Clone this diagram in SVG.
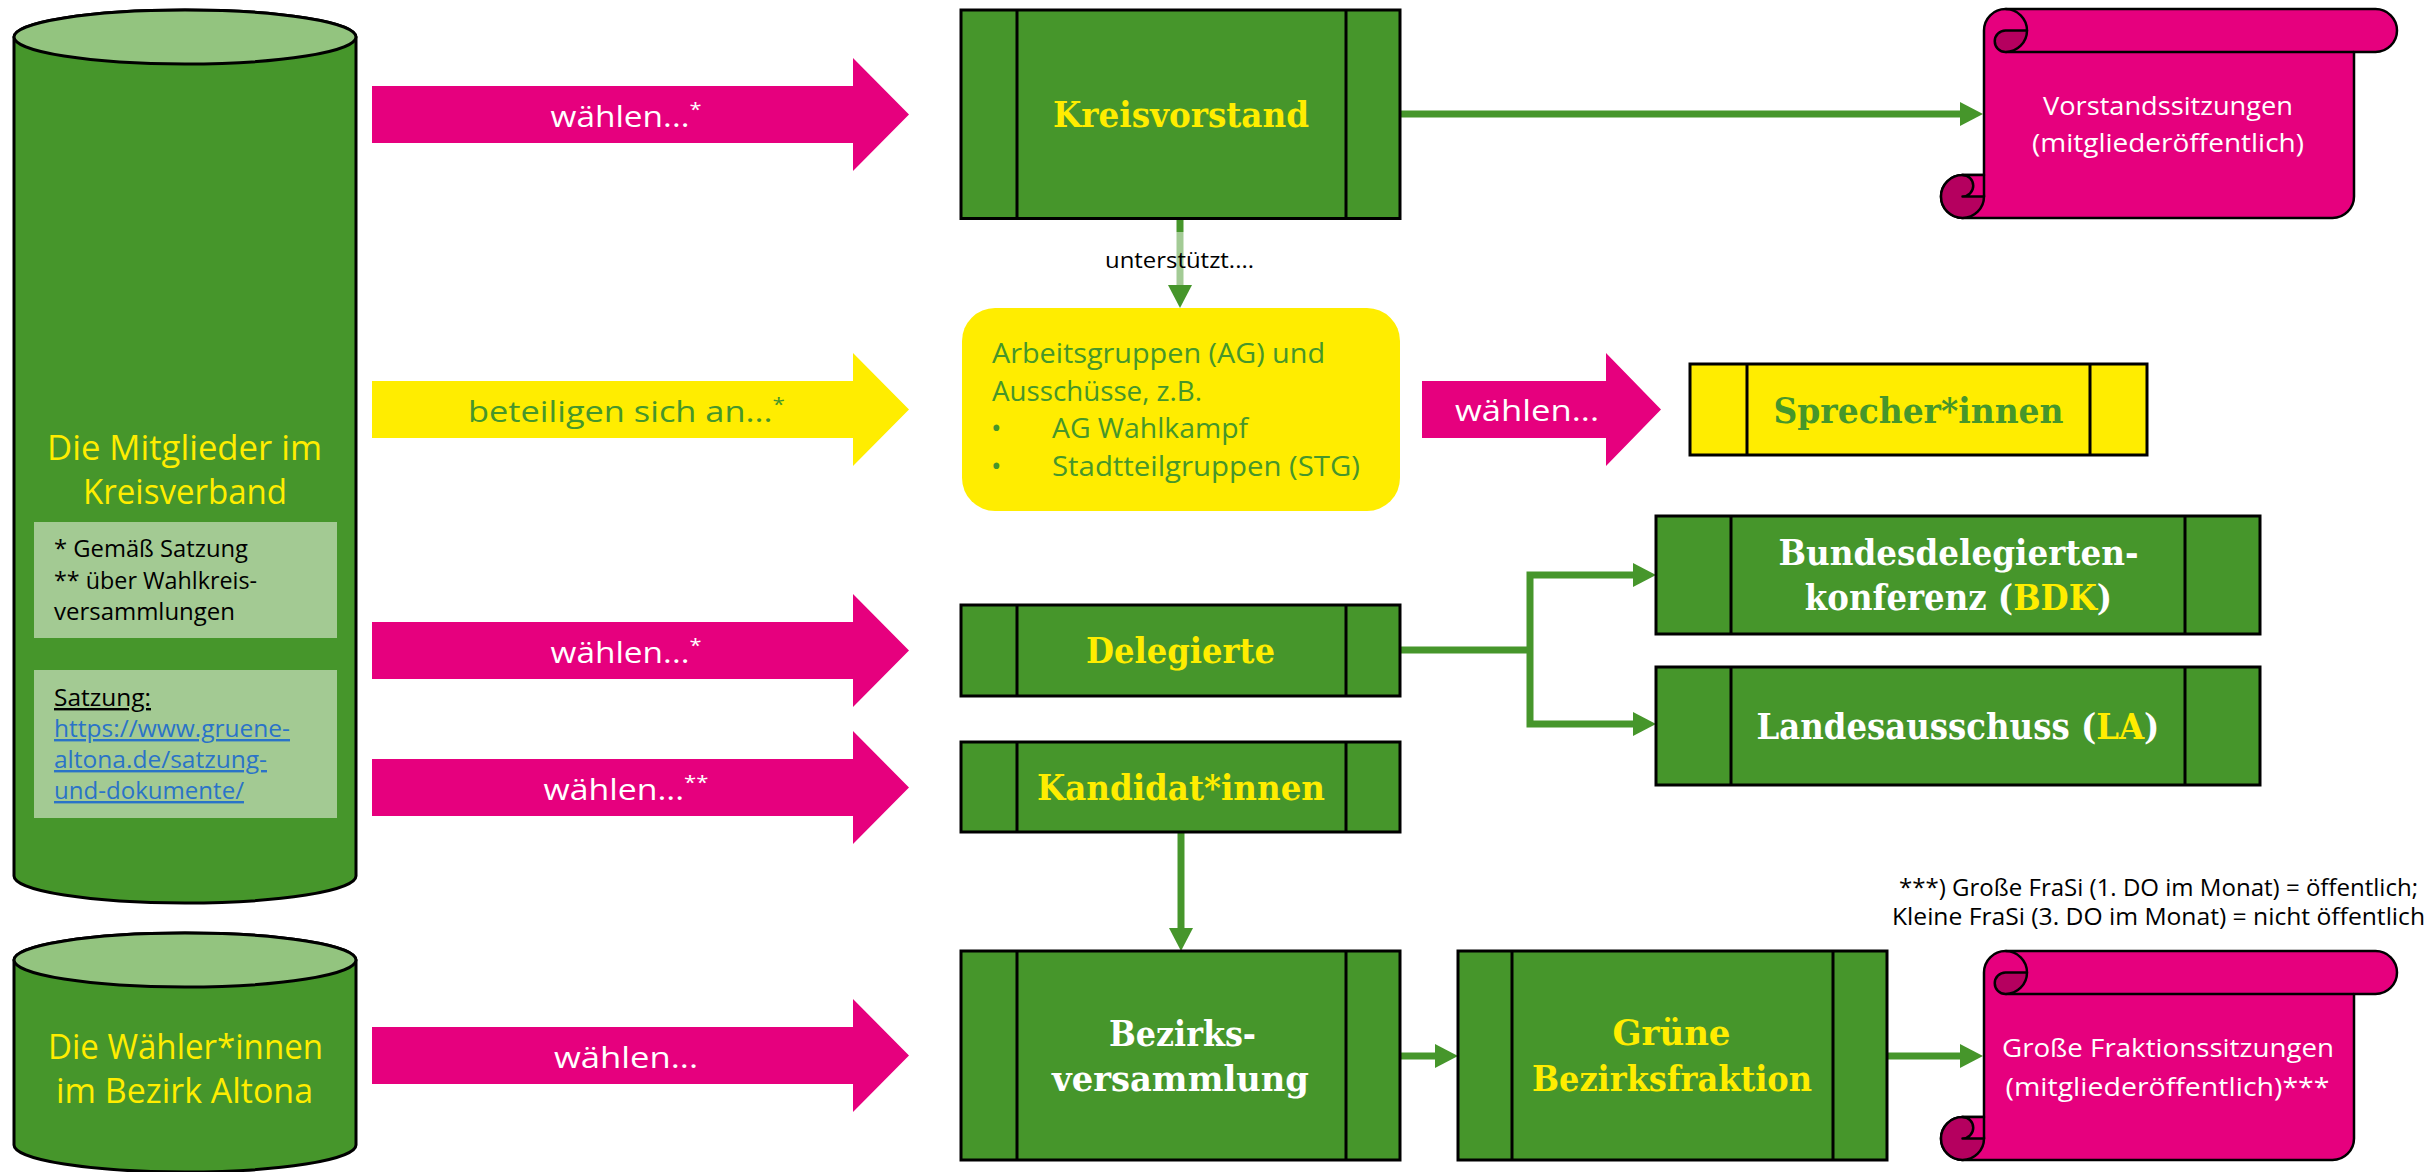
<svg xmlns="http://www.w3.org/2000/svg" width="2433" height="1172" viewBox="0 0 2433 1172">
<defs>
<style>
.gr{fill:#46962b;stroke:#000;stroke-width:3}
.ye{fill:#ffed00;stroke:#000;stroke-width:3}
.bar{stroke:#000;stroke-width:3}
.top{fill:#93c47f;stroke:#000;stroke-width:3}
.note{fill:#a3ca93}
.sans{font-family:"Open Sans","Noto Sans","DejaVu Sans",sans-serif}
.slab{font-family:"DejaVu Serif","Liberation Serif",serif;font-weight:bold;font-size:36px}
.conn{fill:none;stroke:#46962b;stroke-width:7}
.blk{fill:#e6007e}
.byel{fill:#ffed00}
.sc{stroke:#000;stroke-width:2.5;stroke-linejoin:round}
.w{fill:#fff}
.yl{fill:#ffed00}
.gt{fill:#46962b}
.link{fill:#2a73c8;text-decoration:underline}
</style>
<marker id="ah" markerUnits="userSpaceOnUse" markerWidth="24" markerHeight="24" viewBox="0 0 23 24" refX="11" refY="12" orient="auto">
<path d="M0,0 L23,12 L0,24 Z" fill="#46962b"/>
</marker>
<g id="scroll-shape">
<path class="sc" fill="#e6007e" d="M64.5,0 H434.5 A21.5,21.5 0 0 1 434.5,43 H413 V187.5 A21.5,21.5 0 0 1 391.5,209 H21.5 A21.5,21.5 0 0 1 21.5,166 H43 V21.5 A21.5,21.5 0 0 1 64.5,0 Z"/>
<circle class="sc" fill="#b5005f" cx="21.5" cy="187.5" r="21.5"/>
<path class="sc" fill="#e6007e" d="M21.5,166 H43 V187.5 H21.5 A10.75,10.75 0 0 0 21.5,166 Z"/>
<path class="sc" fill="none" d="M64.5,43 H413"/>
<path class="sc" fill="#b5005f" d="M64.5,21.5 H86 A21.5,21.5 0 0 1 64.5,43 A10.75,10.75 0 0 1 64.5,21.5 Z"/>
<path class="sc" fill="none" d="M64.5,0 A21.5,21.5 0 0 1 86,21.5"/>
</g>
</defs>
<rect width="2433" height="1172" fill="#fff"/>

<g id="connectors">
<path class="conn" d="M1400,114 H1971" marker-end="url(#ah)"/>
<path class="conn" d="M1180,219 V296" marker-end="url(#ah)"/>
<path class="conn" d="M1400,650 H1530"/>
<path class="conn" d="M1530,650 V575 H1644" marker-end="url(#ah)"/>
<path class="conn" d="M1530,650 V724 H1644" marker-end="url(#ah)"/>
<path class="conn" d="M1181,832 V939" marker-end="url(#ah)"/>
<path class="conn" d="M1400,1056 H1446" marker-end="url(#ah)"/>
<path class="conn" d="M1887,1056 H1971" marker-end="url(#ah)"/>
<g id="label-unterstuetzt">
<rect x="1098" y="232" width="164" height="53" fill="#fff" fill-opacity="0.5"/>
<text class="sans" x="1105" y="268" font-size="21" textLength="149" lengthAdjust="spacingAndGlyphs" fill="#000">unterstützt....</text>
</g>
</g>

<g id="mitglieder">
<path class="gr" d="M14,37 A171,27 0 0 1 356,37 V876 A171,27 0 0 1 14,876 Z"/>
<ellipse class="top" cx="185" cy="37" rx="171" ry="27"/>
<text class="sans yl" font-size="35"><tspan x="47" y="460" textLength="275" lengthAdjust="spacingAndGlyphs">Die Mitglieder im</tspan><tspan x="83" y="504" textLength="204" lengthAdjust="spacingAndGlyphs">Kreisverband</tspan></text>
<rect class="note" x="34" y="522" width="303" height="116"/>
<text class="sans" font-size="24"><tspan x="54" y="557" textLength="194" lengthAdjust="spacingAndGlyphs">* Gemäß Satzung</tspan><tspan x="54" y="589" textLength="203" lengthAdjust="spacingAndGlyphs">** über Wahlkreis-</tspan><tspan x="54" y="620" textLength="181" lengthAdjust="spacingAndGlyphs">versammlungen</tspan></text>
<rect class="note" x="34" y="670" width="303" height="148"/>
<text class="sans" font-size="24"><tspan x="54" y="706" textLength="97" lengthAdjust="spacingAndGlyphs" text-decoration="underline">Satzung:</tspan><tspan class="link" x="54" y="737" textLength="236" lengthAdjust="spacingAndGlyphs">https://www.gruene-</tspan><tspan class="link" x="54" y="768" textLength="213" lengthAdjust="spacingAndGlyphs">altona.de/satzung-</tspan><tspan class="link" x="54" y="799" textLength="190" lengthAdjust="spacingAndGlyphs">und-dokumente/</tspan></text>
</g>

<g id="waehler">
<path class="gr" d="M14,960 A171,27 0 0 1 356,960 V1145 A171,27 0 0 1 14,1145 Z"/>
<ellipse class="top" cx="185" cy="960" rx="171" ry="27"/>
<text class="sans yl" font-size="35"><tspan x="48" y="1059" textLength="275" lengthAdjust="spacingAndGlyphs">Die Wähler*innen</tspan><tspan x="56" y="1103" textLength="257" lengthAdjust="spacingAndGlyphs">im Bezirk Altona</tspan></text>
</g>

<g id="arrow-waehlen-vorstand">
<polygon class="blk" points="372,86 853,86 853,58 909,114.5 853,171 853,143 372,143"/>
<text class="sans w" x="550.5" y="127" font-size="29" textLength="151" lengthAdjust="spacingAndGlyphs">wählen...<tspan dy="-11" font-size="19">*</tspan></text>
</g>
<g id="arrow-beteiligen">
<polygon class="byel" points="372,381 853,381 853,353 909,409.5 853,466 853,438 372,438"/>
<text class="sans gt" x="468" y="422" font-size="29" textLength="317" lengthAdjust="spacingAndGlyphs">beteiligen sich an...<tspan dy="-11" font-size="19">*</tspan></text>
</g>
<g id="arrow-waehlen-delegierte">
<polygon class="blk" points="372,622 853,622 853,594 909,650.5 853,707 853,679 372,679"/>
<text class="sans w" x="550.5" y="663" font-size="29" textLength="151" lengthAdjust="spacingAndGlyphs">wählen...<tspan dy="-11" font-size="19">*</tspan></text>
</g>
<g id="arrow-waehlen-kandidat">
<polygon class="blk" points="372,759 853,759 853,731 909,787.5 853,844 853,816 372,816"/>
<text class="sans w" x="543.5" y="800" font-size="29" textLength="165" lengthAdjust="spacingAndGlyphs">wählen...<tspan dy="-11" font-size="19">**</tspan></text>
</g>
<g id="arrow-waehlen-bezirk">
<polygon class="blk" points="372,1027 853,1027 853,999 909,1055.5 853,1112 853,1084 372,1084"/>
<text class="sans w" x="554" y="1068" font-size="29" textLength="144" lengthAdjust="spacingAndGlyphs">wählen...</text>
</g>

<g id="kreisvorstand">
<rect class="gr" x="961" y="10" width="439" height="208.5"/>
<path class="bar" d="M1017,10 V218.5 M1346,10 V218.5"/>
<text class="slab yl" x="1053" y="127" textLength="256" lengthAdjust="spacingAndGlyphs">Kreisvorstand</text>
</g>

<g id="vorstandssitzungen">
<use href="#scroll-shape" transform="translate(1941,9)"/>
<text class="sans w" font-size="25"><tspan x="2043" y="115" textLength="250" lengthAdjust="spacingAndGlyphs">Vorstandssitzungen</tspan><tspan x="2032" y="152" textLength="272" lengthAdjust="spacingAndGlyphs">(mitgliederöffentlich)</tspan></text>
</g>

<g id="arbeitsgruppen">
<rect x="962" y="308" width="438" height="203" rx="33" fill="#ffed00"/>
<text class="sans gt" font-size="28"><tspan x="992" y="363" textLength="333" lengthAdjust="spacingAndGlyphs">Arbeitsgruppen (AG) und</tspan><tspan x="992" y="401" textLength="210" lengthAdjust="spacingAndGlyphs">Ausschüsse, z.B.</tspan><tspan x="991" y="438">•</tspan><tspan x="1052" y="438" textLength="196" lengthAdjust="spacingAndGlyphs">AG Wahlkampf</tspan><tspan x="991" y="476">•</tspan><tspan x="1052" y="476" textLength="308" lengthAdjust="spacingAndGlyphs">Stadtteilgruppen (STG)</tspan></text>
</g>

<g id="arrow-waehlen-sprecher">
<polygon class="blk" points="1422,381 1606,381 1606,353 1661,409.5 1606,466 1606,438 1422,438"/>
<text class="sans w" x="1455" y="421" font-size="29" textLength="144" lengthAdjust="spacingAndGlyphs">wählen...</text>
</g>

<g id="sprecher">
<rect class="ye" x="1690" y="364" width="457" height="91"/>
<path class="bar" d="M1747,364 V455 M2090,364 V455"/>
<text class="slab gt" x="1773.5" y="423" textLength="290" lengthAdjust="spacingAndGlyphs">Sprecher*innen</text>
</g>

<g id="delegierte">
<rect class="gr" x="961" y="605" width="439" height="91"/>
<path class="bar" d="M1017,605 V696 M1346,605 V696"/>
<text class="slab yl" x="1086" y="663" textLength="189" lengthAdjust="spacingAndGlyphs">Delegierte</text>
</g>

<g id="bdk">
<rect class="gr" x="1656" y="516" width="604" height="118"/>
<path class="bar" d="M1731,516 V634 M2185,516 V634"/>
<text class="slab w" x="1778.5" y="565" textLength="360" lengthAdjust="spacingAndGlyphs">Bundesdelegierten-</text>
<g transform="translate(1958.5,610) scale(0.9,1)">
<text class="slab w" x="0" y="0" text-anchor="middle">konferenz (<tspan class="yl">BDK</tspan>)</text>
</g>
</g>

<g id="la">
<rect class="gr" x="1656" y="667" width="604" height="118"/>
<path class="bar" d="M1731,667 V785 M2185,667 V785"/>
<g transform="translate(1958,739) scale(0.9,1)">
<text class="slab w" x="0" y="0" text-anchor="middle">Landesausschuss (<tspan class="yl">LA</tspan>)</text>
</g>
</g>

<g id="kandidaten">
<rect class="gr" x="961" y="742" width="439" height="90"/>
<path class="bar" d="M1017,742 V832 M1346,742 V832"/>
<text class="slab yl" x="1037" y="800" textLength="288" lengthAdjust="spacingAndGlyphs">Kandidat*innen</text>
</g>

<g id="bezirksversammlung">
<rect class="gr" x="961" y="951" width="439" height="209"/>
<path class="bar" d="M1017,951 V1160 M1346,951 V1160"/>
<text class="slab w"><tspan x="1109" y="1046" textLength="147" lengthAdjust="spacingAndGlyphs">Bezirks-</tspan><tspan x="1052" y="1091" textLength="257" lengthAdjust="spacingAndGlyphs">versammlung</tspan></text>
</g>

<g id="bezirksfraktion">
<rect class="gr" x="1458" y="951" width="429" height="209"/>
<path class="bar" d="M1512,951 V1160 M1833,951 V1160"/>
<text class="slab yl"><tspan x="1612.5" y="1045" textLength="118" lengthAdjust="spacingAndGlyphs">Grüne</tspan><tspan x="1532" y="1091" textLength="280" lengthAdjust="spacingAndGlyphs">Bezirksfraktion</tspan></text>
</g>

<g id="fraktionssitzungen">
<use href="#scroll-shape" transform="translate(1941,951)"/>
<text class="sans w" font-size="25"><tspan x="2002" y="1057" textLength="332" lengthAdjust="spacingAndGlyphs">Große Fraktionssitzungen</tspan><tspan x="2005.5" y="1096" textLength="324" lengthAdjust="spacingAndGlyphs">(mitgliederöffentlich)***</tspan></text>
</g>

<g id="fussnote">
<text class="sans" font-size="23"><tspan x="1899" y="896" textLength="519" lengthAdjust="spacingAndGlyphs">***) Große FraSi (1. DO im Monat) = öffentlich;</tspan><tspan x="1892" y="925" textLength="533" lengthAdjust="spacingAndGlyphs">Kleine FraSi (3. DO im Monat) = nicht öffentlich</tspan></text>
</g>
</svg>
